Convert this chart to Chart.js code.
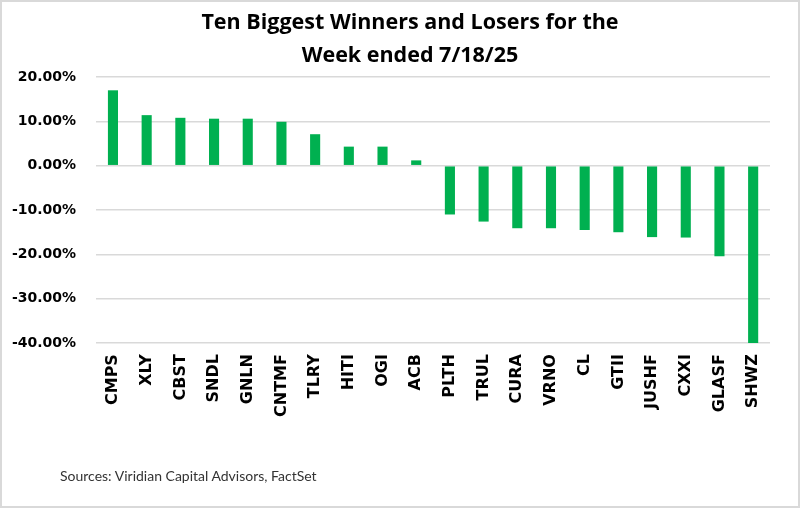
<!DOCTYPE html>
<html>
<head>
  <meta charset="utf-8">
  <title>Ten Biggest Winners and Losers</title>
  <script src="https://cdn.jsdelivr.net/npm/chart.js@4.4.1/dist/chart.umd.min.js"></script>
  <style>
    html, body { margin: 0; padding: 0; background: #fff; }
    #wrap { position: relative; width: 800px; height: 508px; box-sizing: border-box; border: 2px solid #d9d9d9; }
    #chart { position: absolute; left: 0; top: 0; }
    #title { position: absolute; left: 20px; width: 776px; top: 2px; text-align: center;
      font-family: "Open Sans", sans-serif; font-weight: bold; font-size: 21.5px; line-height: 33px; color: #000; }
    #source { position: absolute; left: 58px; top: 465px; font-family: Lato, "Open Sans", sans-serif; font-size: 14px; color: #333; }
  </style>
</head>
<body>
<div id="wrap">
  <canvas id="chart" width="796" height="504"></canvas>
  <div id="title"></div>
  <div id="source">Sources: Viridian Capital Advisors, FactSet</div>
</div>
<script>
// Weekly returns, in percent
const tickers = ['CMPS', 'XLY', 'CBST', 'SNDL', 'GNLN', 'CNTMF', 'TLRY', 'HITI', 'OGI', 'ACB',
  'PLTH', 'TRUL', 'CURA', 'VRNO', 'CL', 'GTII', 'JUSHF', 'CXXI', 'GLASF', 'SHWZ'];
const returns = [17.0, 11.4, 10.8, 10.6, 10.6, 9.9, 7.1, 4.3, 4.3, 1.2,
  -11.0, -12.6, -14.1, -14.1, -14.5, -15.0, -16.1, -16.2, -20.4, -40.0];
const titleLines = ['Ten Biggest Winners and Losers for the', 'Week ended 7/18/25'];

document.getElementById('title').innerHTML = titleLines.join('<br>');

new Chart(document.getElementById('chart'), {
  type: 'bar',
  data: {
    labels: tickers,
    datasets: [{
      data: returns,
      backgroundColor: '#00b050',
      categoryPercentage: 1,
      barPercentage: 0.3
    }]
  },
  options: {
    responsive: false,
    animation: false,
    layout: { padding: { left: -10, right: 28, top: 75, bottom: 86 } },
    plugins: {
      legend: { display: false },
      tooltip: { enabled: false }
    },
    scales: {
      x: {
        grid: { display: false },
        border: { display: false },
        ticks: {
          color: '#000',
          maxRotation: 90,
          minRotation: 90,
          font: { family: 'DejaVu Sans', size: 16, weight: 'bold' }
        }
      },
      y: {
        min: -40,
        max: 20,
        grid: { color: '#d9d9d9', lineWidth: 1.5, drawTicks: false },
        border: { display: false },
        ticks: {
          stepSize: 10,
          padding: 20,
          color: '#000',
          font: { family: 'DejaVu Sans', size: 14, weight: 'bold' },
          callback: v => v.toFixed(2) + '%'
        }
      }
    }
  }
});
</script>
</body>
</html>
